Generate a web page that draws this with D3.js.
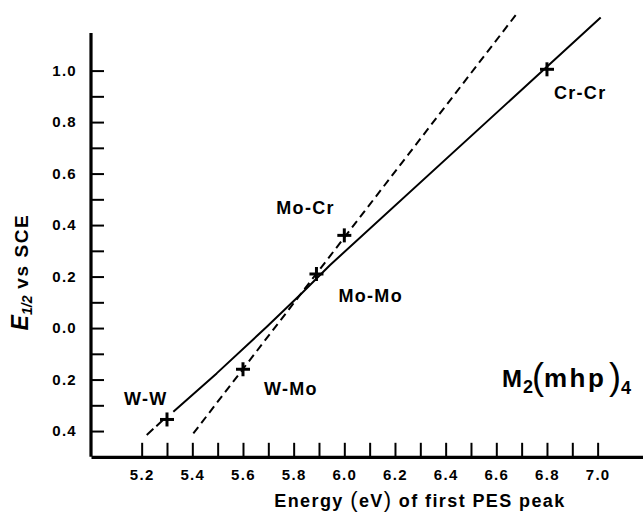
<!DOCTYPE html>
<html>
<head>
<meta charset="utf-8">
<script src="https://cdn.jsdelivr.net/npm/d3@7"></script>
<style>
  html, body { margin: 0; padding: 0; background: #fff; }
  svg { display: block; font-family: "Liberation Sans", Arial, Helvetica, sans-serif; }
</style>
</head>
<body>
<svg id="chart" width="643" height="513"></svg>
<script>
// ---------- data ----------
const complexes = ["W-W", "W-Mo", "Mo-Mo", "Mo-Cr", "Cr-Cr"];
const energies  = [5.30, 5.60, 5.89, 6.00, 6.80];      // eV, first PES peak
const halfWave  = [-0.355, -0.16, 0.21, 0.36, 1.005];  // E1/2 vs SCE

// solid correlation line (homonuclear) and its dashed extension
const solidX = [5.325, 5.496, 5.694, 5.832, 5.944, 7.012];
const solidY = [-0.325, -0.176, 0.005, 0.135, 0.245, 1.206];
const solidExtX = [5.22, 5.29];
const solidExtY = [-0.415, -0.352];
// dashed line (heteronuclear)
const dashX = [5.404, 6.677];
const dashY = [-0.409, 1.216];

const xTicks = [5.2,5.3,5.4,5.5,5.6,5.7,5.8,5.9,6.0,6.1,6.2,6.3,6.4,6.5,6.6,6.7,6.8,6.9,7.0];
const xLabelValues = [5.2,5.4,5.6,5.8,6.0,6.2,6.4,6.6,6.8,7.0];
const xTickLabels = ["5.2","5.4","5.6","5.8","6.0","6.2","6.4","6.6","6.8","7.0"];
const yTicks = [-0.4,-0.3,-0.2,-0.1,0.0,0.1,0.2,0.3,0.4,0.5,0.6,0.7,0.8,0.9,1.0];
const yLabelValues = [1.0,0.8,0.6,0.4,0.2,0.0,-0.2,-0.4];
const yTickLabels = ["1.0","0.8","0.6","0.4","0.2","0.0","0.2","0.4"];

// ---------- layout / style ----------
const svg = d3.select("#chart");
const x = d3.scaleLinear().domain([5.0, 7.2]).range([91, 648.3]);
const y = d3.scaleLinear().domain([-0.5, 1.146]).range([456.8, 33]);

const labelOffsets = {
  "W-W":   [-43, -14],
  "W-Mo":  [21, 26],
  "Mo-Mo": [22, 28],
  "Mo-Cr": [-68, -21],
  "Cr-Cr": [7, 30]
};

function near(a, b) { return Math.abs(a - b) < 1e-6; }

// ---------- axes ----------
const yAxis = d3.axisLeft(y)
  .tickValues(yTicks)
  .tickSizeInner(-13).tickSizeOuter(0).tickPadding(14)
  .tickFormat(d => {
    const i = yLabelValues.findIndex(v => near(v, d));
    return i >= 0 ? yTickLabels[i] : "";
  });
const gy = svg.append("g").attr("transform", `translate(${x(5.0)},0)`).call(yAxis);

const xAxis = d3.axisBottom(x)
  .tickValues(xTicks)
  .tickSizeInner(-14).tickSizeOuter(0).tickPadding(13)
  .tickFormat(d => {
    const i = xLabelValues.findIndex(v => near(v, d));
    return i >= 0 ? xTickLabels[i] : "";
  });
const gx = svg.append("g").attr("transform", `translate(0,${y(-0.5)})`).call(xAxis);

[gx, gy].forEach(g => {
  g.select(".domain").attr("stroke", "#000").attr("stroke-width", 3.2);
  g.selectAll(".tick line").attr("stroke", "#000").attr("stroke-width", 2);
  g.selectAll(".tick text")
    .attr("fill", "#000")
    .style("font-size", "15px")
    .style("font-weight", "bold")
    .style("letter-spacing", "1.3px")
    .style("font-family", '"Liberation Sans", Arial, sans-serif');
});
gy.select(".domain").attr("d", `M0,${y(-0.5)}V${y(1.146)}`);

// ---------- lines ----------
const lineGen = d3.line().x(d => x(d[0])).y(d => y(d[1]));
svg.append("path")
  .datum(solidX.map((v, i) => [v, solidY[i]]))
  .attr("d", lineGen)
  .attr("fill", "none").attr("stroke", "#000").attr("stroke-width", 2)
  .attr("stroke-linejoin", "round");
svg.append("path")
  .datum(solidExtX.map((v, i) => [v, solidExtY[i]]))
  .attr("d", lineGen)
  .attr("fill", "none").attr("stroke", "#000").attr("stroke-width", 2)
  .attr("stroke-dasharray", "9,4");
svg.append("path")
  .datum(dashX.map((v, i) => [v, dashY[i]]))
  .attr("d", lineGen)
  .attr("fill", "none").attr("stroke", "#000").attr("stroke-width", 2)
  .attr("stroke-dasharray", "8,5");

// ---------- markers ----------
const pts = complexes.map((c, i) => ({ name: c, e: energies[i], v: halfWave[i] }));
const mk = svg.append("g").selectAll("g").data(pts).join("g")
  .attr("transform", d => `translate(${x(d.e)},${y(d.v)})`);
mk.append("line").attr("x1", -7).attr("x2", 7).attr("y1", 0).attr("y2", 0)
  .attr("stroke", "#000").attr("stroke-width", 3);
mk.append("line").attr("x1", 0).attr("x2", 0).attr("y1", -7).attr("y2", 7)
  .attr("stroke", "#000").attr("stroke-width", 3);

svg.append("g").selectAll("text").data(pts).join("text")
  .attr("x", d => x(d.e) + labelOffsets[d.name][0])
  .attr("y", d => y(d.v) + labelOffsets[d.name][1])
  .style("font-size", "18px").style("font-weight", "bold")
  .style("letter-spacing", "1.3px")
  .text(d => d.name);

// ---------- compound formula ----------
const formula = svg.append("text").attr("y", 387)
  .style("font-size", "24px").style("font-weight", "bold");
formula.append("tspan").attr("x", 502).text("M");
formula.append("tspan").attr("x", 523).attr("y", 393).style("font-size", "18px").text("2");
formula.append("tspan").attr("x", 532).attr("y", 389)
  .style("font-weight", "normal").style("font-size", "36px").text("(");
formula.append("tspan").attr("x", 544).attr("y", 387)
  .style("font-size", "26px").style("letter-spacing", "2.5px").text("mhp");
formula.append("tspan").attr("x", 609).attr("y", 389)
  .style("font-weight", "normal").style("font-size", "36px").text(")");
formula.append("tspan").attr("x", 621).attr("y", 394).style("font-size", "18px").text("4");

// ---------- axis titles ----------
const xt = svg.append("text").attr("x", 420).attr("y", 506.5)
  .attr("text-anchor", "middle")
  .style("font-size", "18px").style("font-weight", "bold").style("letter-spacing", "1.4px");
xt.append("tspan").text("Energy ");
xt.append("tspan").style("font-weight", "normal").style("font-size", "22px").text("(");
xt.append("tspan").text("eV");
xt.append("tspan").style("font-weight", "normal").style("font-size", "22px").text(")");
xt.append("tspan").text(" of first PES peak");

const yt = svg.append("text")
  .attr("transform", "translate(28,272) rotate(-90)")
  .attr("text-anchor", "middle")
  .style("font-size", "19px").style("font-weight", "bold");
yt.append("tspan").style("font-style", "italic").style("font-size", "23px").text("E");
yt.append("tspan").attr("dy", 4).style("font-style", "italic").style("font-size", "14px").text("1/2");
yt.append("tspan").attr("dy", -4).style("letter-spacing", "1.6px").text(" vs SCE");
</script>
</body>
</html>
